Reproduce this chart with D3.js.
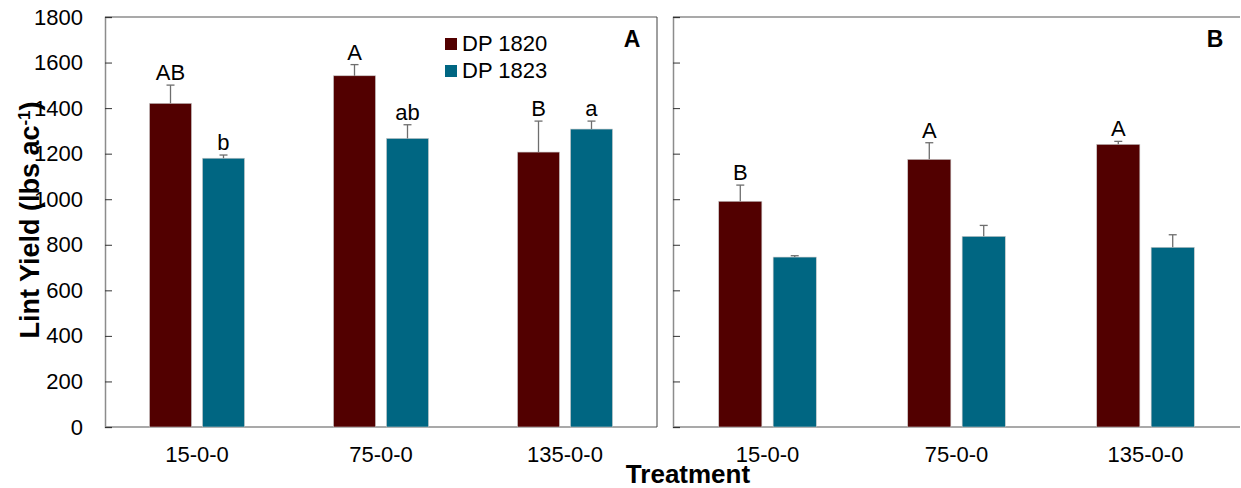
<!DOCTYPE html>
<html>
<head>
<meta charset="utf-8">
<script src="https://cdn.jsdelivr.net/npm/d3@7"></script>
<style>
  body { margin: 0; background: #fff; }
  svg { font-family: "Liberation Sans", Arial, sans-serif; }
</style>
</head>
<body>
<svg id="chart" width="1241" height="488"></svg>
<script>
// Data
var treatments = ["15-0-0", "75-0-0", "135-0-0"];
var cultivars = ["DP 1820", "DP 1823"];
var yTicks = [0, 200, 400, 600, 800, 1000, 1200, 1400, 1600, 1800];

// Panel A (yield, SE, letters)
var yieldA_1820 = [1421, 1542, 1207];
var yieldA_1823 = [1180, 1267, 1308];
var seA_1820 = [80, 49, 136];
var seA_1823 = [14, 60, 35];
var letA_1820 = ["AB", "A", "B"];
var letA_1823 = ["b", "ab", "a"];

// Panel B
var yieldB_1820 = [991, 1175, 1241];
var yieldB_1823 = [746, 837, 789];
var seB_1820 = [71, 73, 13];
var seB_1823 = [6, 48, 55];
var letB_1820 = ["B", "A", "A"];
var letB_1823 = ["", "", ""];

var colors = {"DP 1820": "#520000", "DP 1823": "#006682"};

var svg = d3.select("#chart");

var y = d3.scaleLinear().domain([0, 1800]).range([427, 17]);

function rows(v1820, v1823, s1820, s1823, l1820, l1823) {
    var out = [];
    treatments.forEach(function (t, i) {
        out.push({t: t, c: "DP 1820", v: v1820[i], se: s1820[i], lab: l1820[i]});
        out.push({t: t, c: "DP 1823", v: v1823[i], se: s1823[i], lab: l1823[i]});
    });
    return out;
}

// Draw one panel
function panel(opts) {
    var g = svg.append("g").attr("class", "panel");
    var x0 = d3.scaleBand().domain(treatments).range([opts.left, opts.right]);
    var x1 = d3.scaleBand().domain(cultivars).range([0, x0.bandwidth()])
        .paddingInner(0.2075).paddingOuter(0.84);
    var cx = function (d) { return x0(d.t) + x1(d.c) + x1.bandwidth() / 2; };

    // frame
    g.append("line").attr("x1", opts.left).attr("x2", opts.right)
        .attr("y1", y(1800)).attr("y2", y(1800))
        .attr("stroke", "#8c8c8c").attr("stroke-width", 1.5);
    g.append("line").attr("x1", opts.left).attr("x2", opts.right)
        .attr("y1", y(0)).attr("y2", y(0))
        .attr("stroke", "#8c8c8c").attr("stroke-width", 1.5);
    if (opts.rightBorder) {
        g.append("line").attr("x1", opts.right).attr("x2", opts.right)
            .attr("y1", y(1800)).attr("y2", y(0))
            .attr("stroke", "#404040").attr("stroke-width", 1);
    }

    var data = rows.apply(null, opts.data);

    // bars
    g.selectAll("rect.bar").data(data).enter().append("rect")
        .attr("class", "bar")
        .attr("x", function (d) { return x0(d.t) + x1(d.c); })
        .attr("width", x1.bandwidth())
        .attr("y", function (d) { return y(d.v); })
        .attr("height", function (d) { return y(0) - y(d.v); })
        .attr("fill", function (d) { return colors[d.c]; })
        .attr("stroke", "#c8c8c8")
        .attr("stroke-width", 0.6);

    // error bars (upper only)
    var eb = g.selectAll("g.err").data(data).enter().append("g").attr("class", "err");
    eb.append("line")
        .attr("x1", cx).attr("x2", cx)
        .attr("y1", function (d) { return y(d.v); })
        .attr("y2", function (d) { return y(d.v + d.se); })
        .attr("stroke", "#6e6e6e").attr("stroke-width", 1.3);
    eb.append("line")
        .attr("x1", function (d) { return cx(d) - 4; })
        .attr("x2", function (d) { return cx(d) + 4; })
        .attr("y1", function (d) { return y(d.v + d.se); })
        .attr("y2", function (d) { return y(d.v + d.se); })
        .attr("stroke", "#6e6e6e").attr("stroke-width", 1.3);

    // significance letters
    g.selectAll("text.sig").data(data.filter(function (d) { return d.lab; }))
        .enter().append("text")
        .attr("class", "sig")
        .attr("x", cx)
        .attr("y", function (d) { return y(d.v + d.se) - 5; })
        .attr("text-anchor", "middle")
        .attr("font-size", 22)
        .attr("fill", "#000")
        .text(function (d) { return d.lab; });

    // y axis with inside ticks
    var ax = d3.axisLeft(y).tickValues(yTicks).tickSize(-7).tickPadding(22)
        .tickFormat(opts.tickLabels ? d3.format("d") : "");
    var axg = g.append("g").attr("transform", "translate(" + opts.left + ",0)").call(ax);
    axg.select(".domain").attr("stroke", "#8c8c8c").attr("stroke-width", 1.5);
    axg.selectAll(".tick line").attr("stroke", "#333");
    axg.selectAll(".tick text").attr("font-size", 22).attr("fill", "#000")
        .attr("font-family", "Liberation Sans, Arial, sans-serif");

    // x category labels
    g.selectAll("text.cat").data(treatments).enter().append("text")
        .attr("class", "cat")
        .attr("x", function (d) { return x0(d) + x0.bandwidth() / 2; })
        .attr("y", 462)
        .attr("text-anchor", "middle")
        .attr("font-size", 22)
        .attr("fill", "#000")
        .text(function (d) { return d; });

    // panel letter
    g.append("text")
        .attr("x", opts.right - 25).attr("y", 47)
        .attr("text-anchor", "middle")
        .attr("font-size", 23).attr("font-weight", "bold")
        .text(opts.name);
}

panel({left: 105, right: 657, name: "A", tickLabels: true, rightBorder: true,
       data: [yieldA_1820, yieldA_1823, seA_1820, seA_1823, letA_1820, letA_1823]});
panel({left: 673, right: 1240, name: "B", tickLabels: false, rightBorder: false,
       data: [yieldB_1820, yieldB_1823, seB_1820, seB_1823, letB_1820, letB_1823]});

// Legend
var legend = svg.append("g").attr("transform", "translate(445,38)");
cultivars.forEach(function (c, i) {
    legend.append("rect").attr("x", 0).attr("y", i * 27).attr("width", 12).attr("height", 12)
        .attr("fill", colors[c]);
    legend.append("text").attr("x", 17).attr("y", i * 27 + 13)
        .attr("font-size", 22).text(c);
});

// Axis titles
var yt = svg.append("text")
    .attr("transform", "translate(39,220) rotate(-90)")
    .attr("text-anchor", "middle")
    .attr("font-size", 27).attr("font-weight", "bold");
yt.append("tspan").text("Lint Yield (lbs ac");
yt.append("tspan").attr("baseline-shift", "super").attr("font-size", 17).text("-1");
yt.append("tspan").text(")");

svg.append("text")
    .attr("x", 688).attr("y", 483)
    .attr("text-anchor", "middle")
    .attr("font-size", 26).attr("font-weight", "bold")
    .text("Treatment");
</script>
</body>
</html>
